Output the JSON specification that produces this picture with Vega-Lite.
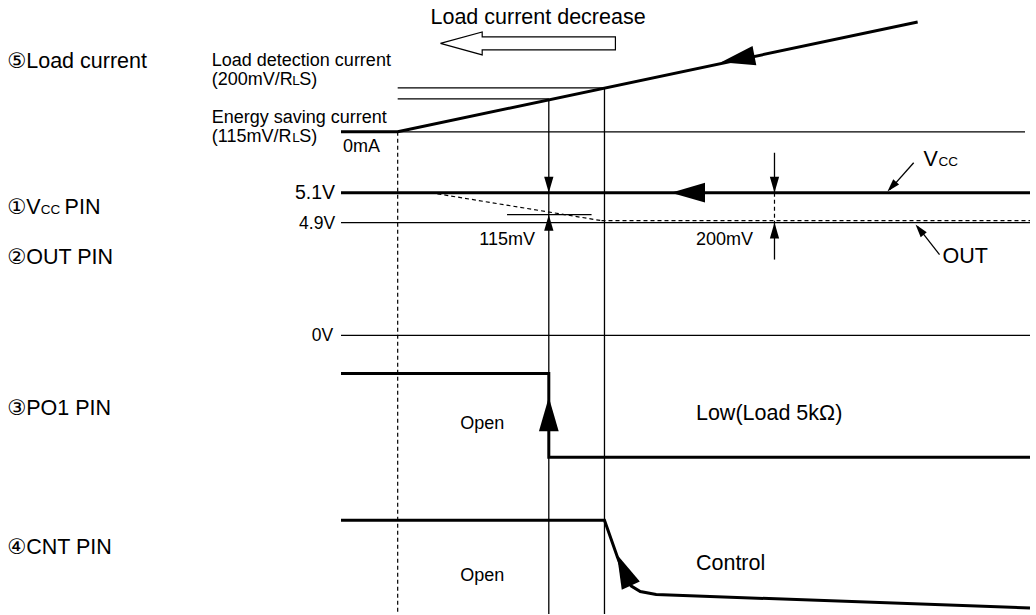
{
  "$schema": "https://vega.github.io/schema/vega-lite/v6.json",
  "width": 1036,
  "height": 615,
  "padding": 0,
  "autosize": {"type": "fit", "contains": "padding"},
  "config": {"view": {"stroke": null}, "axis": {"disable": true}, "text": {"font": "Liberation Sans, DejaVu Sans"}},
  "datasets": {
    "bold": [
      {"seg": "load", "ord": 1, "x": 343, "y": 132},
      {"seg": "load", "ord": 2, "x": 400, "y": 132},
      {"seg": "load", "ord": 3, "x": 923, "y": 22},
      {"seg": "vcc", "ord": 1, "x": 343, "y": 193},
      {"seg": "vcc", "ord": 2, "x": 1036, "y": 193},
      {"seg": "po1", "ord": 1, "x": 343, "y": 374},
      {"seg": "po1", "ord": 2, "x": 552, "y": 374},
      {"seg": "po1", "ord": 3, "x": 552, "y": 458},
      {"seg": "po1", "ord": 4, "x": 1036, "y": 458},
      {"seg": "cnt", "ord": 1, "x": 343, "y": 521},
      {"seg": "cnt", "ord": 2, "x": 608, "y": 521},
      {"seg": "cnt", "ord": 3, "x": 621, "y": 558},
      {"seg": "cnt", "ord": 4, "x": 629, "y": 579},
      {"seg": "cnt", "ord": 5, "x": 635, "y": 587},
      {"seg": "cnt", "ord": 6, "x": 644, "y": 592.5},
      {"seg": "cnt", "ord": 7, "x": 660, "y": 595.5},
      {"seg": "cnt", "ord": 8, "x": 1036, "y": 609}
    ],
    "thin": [
      {"x": 343, "y": 132, "x2": 1031, "y2": 132},
      {"x": 400, "y": 88, "x2": 608, "y2": 88},
      {"x": 400, "y": 99, "x2": 552, "y2": 99},
      {"x": 552, "y": 99, "x2": 552, "y2": 615},
      {"x": 608, "y": 88, "x2": 608, "y2": 615},
      {"x": 343, "y": 223, "x2": 1036, "y2": 223},
      {"x": 510, "y": 215, "x2": 595, "y2": 215},
      {"x": 343, "y": 336, "x2": 1036, "y2": 336},
      {"x": 779, "y": 153, "x2": 779, "y2": 193},
      {"x": 779, "y": 223, "x2": 779, "y2": 260},
      {"x": 919, "y": 163, "x2": 895, "y2": 190},
      {"x": 945, "y": 255, "x2": 923, "y2": 227}
    ],
    "dashed": [
      {"x": 400, "y": 132, "x2": 400, "y2": 615},
      {"x": 433, "y": 193, "x2": 605, "y2": 221},
      {"x": 605, "y": 221, "x2": 1036, "y2": 221},
      {"x": 779, "y": 193, "x2": 779, "y2": 223}
    ],
    "hollow": [
      {"ord": 1, "x": 443, "y": 43.5},
      {"ord": 2, "x": 485, "y": 32},
      {"ord": 3, "x": 485, "y": 37},
      {"ord": 4, "x": 619, "y": 37},
      {"ord": 5, "x": 619, "y": 50},
      {"ord": 6, "x": 485, "y": 50},
      {"ord": 7, "x": 485, "y": 55},
      {"ord": 8, "x": 443, "y": 43.5}
    ],
    "heads": [
      {"kind": "big", "x": 742, "y": 59, "angle": 259},
      {"kind": "big", "x": 692, "y": 193, "angle": 270},
      {"kind": "big", "x": 552, "y": 415, "angle": 0},
      {"kind": "big", "x": 627.5, "y": 571, "angle": 336},
      {"kind": "small", "x": 552, "y": 185, "angle": 180},
      {"kind": "small", "x": 552, "y": 223, "angle": 0},
      {"kind": "small", "x": 779, "y": 185, "angle": 180},
      {"kind": "small", "x": 779, "y": 231, "angle": 0},
      {"kind": "pointer", "x": 897, "y": 187, "angle": 222},
      {"kind": "pointer", "x": 925, "y": 230, "angle": 321}
    ],
    "texts": [
      {"group": "big", "x": 7, "y": 62, "label": "⑤Load current"},
      {"group": "big", "x": 7, "y": 208, "label": "①V"},
      {"group": "big", "x": 65, "y": 208, "label": "PIN"},
      {"group": "big", "x": 7, "y": 258, "label": "②OUT PIN"},
      {"group": "big", "x": 7, "y": 410, "label": "③PO1 PIN"},
      {"group": "big", "x": 7, "y": 549, "label": "④CNT PIN"},
      {"group": "big", "x": 433, "y": 18, "label": "Load current decrease"},
      {"group": "big", "x": 700, "y": 415, "label": "Low(Load 5kΩ)"},
      {"group": "big", "x": 700, "y": 565, "label": "Control"},
      {"group": "big", "x": 948, "y": 257, "label": "OUT"},
      {"group": "big", "x": 929, "y": 160, "label": "V"},
      {"group": "mid", "x": 213, "y": 61, "label": "Load detection current"},
      {"group": "mid", "x": 213, "y": 80, "label": "(200mV/R"},
      {"group": "mid", "x": 301, "y": 80, "label": "S)"},
      {"group": "mid", "x": 213, "y": 118, "label": "Energy saving current"},
      {"group": "mid", "x": 213, "y": 137, "label": "(115mV/R"},
      {"group": "mid", "x": 301, "y": 137, "label": "S)"},
      {"group": "mid", "x": 345, "y": 147, "label": "0mA"},
      {"group": "mid", "x": 463, "y": 425, "label": "Open"},
      {"group": "mid", "x": 463, "y": 577, "label": "Open"},
      {"group": "mid", "x": 482, "y": 240, "label": "115mV"},
      {"group": "mid", "x": 700, "y": 240, "label": "200mV"},
      {"group": "small", "x": 41, "y": 210, "label": "CC"},
      {"group": "small", "x": 944, "y": 162, "label": "CC"},
      {"group": "small", "x": 294, "y": 81, "label": "L"},
      {"group": "small", "x": 294, "y": 138, "label": "L"},
      {"group": "right", "x": 337, "y": 193, "label": "5.1V"},
      {"group": "rightmid", "x": 337, "y": 224, "label": "4.9V"},
      {"group": "rightmid", "x": 335, "y": 337, "label": "0V"}
    ]
  },
  "layer": [
    {
      "data": {"name": "thin"},
      "mark": {"type": "rule", "color": "black", "strokeWidth": 1.3},
      "encoding": {
        "x": {"field": "x", "type": "quantitative", "scale": {"domain": [0, 1036], "nice": false, "zero": false}},
        "y": {"field": "y", "type": "quantitative", "scale": {"domain": [0, 615], "reverse": true, "nice": false, "zero": false}},
        "x2": {"field": "x2"},
        "y2": {"field": "y2"}
      }
    },
    {
      "data": {"name": "dashed"},
      "mark": {"type": "rule", "color": "black", "strokeWidth": 1.2, "strokeDash": [4, 3]},
      "encoding": {
        "x": {"field": "x", "type": "quantitative"},
        "y": {"field": "y", "type": "quantitative"},
        "x2": {"field": "x2"},
        "y2": {"field": "y2"}
      }
    },
    {
      "data": {"name": "bold"},
      "mark": {"type": "line", "color": "black", "strokeWidth": 3, "strokeJoin": "miter"},
      "encoding": {
        "x": {"field": "x", "type": "quantitative"},
        "y": {"field": "y", "type": "quantitative"},
        "detail": {"field": "seg"},
        "order": {"field": "ord"}
      }
    },
    {
      "data": {"name": "hollow"},
      "mark": {"type": "line", "color": "black", "strokeWidth": 1.2, "strokeJoin": "miter"},
      "encoding": {
        "x": {"field": "x", "type": "quantitative"},
        "y": {"field": "y", "type": "quantitative"},
        "order": {"field": "ord"}
      }
    },
    {
      "data": {"name": "heads"},
      "transform": [{"filter": "datum.kind === 'big'"}],
      "mark": {"type": "point", "shape": "M0,-1L0.58,1L-0.58,1Z", "filled": true, "color": "black", "opacity": 1, "size": 1160, "strokeWidth": 0},
      "encoding": {
        "x": {"field": "x", "type": "quantitative"},
        "y": {"field": "y", "type": "quantitative"},
        "angle": {"field": "angle", "type": "quantitative", "scale": null}
      }
    },
    {
      "data": {"name": "heads"},
      "transform": [{"filter": "datum.kind === 'small'"}],
      "mark": {"type": "point", "shape": "M0,-1L0.58,1L-0.58,1Z", "filled": true, "color": "black", "opacity": 1, "size": 256, "strokeWidth": 0},
      "encoding": {
        "x": {"field": "x", "type": "quantitative"},
        "y": {"field": "y", "type": "quantitative"},
        "angle": {"field": "angle", "type": "quantitative", "scale": null}
      }
    },
    {
      "data": {"name": "heads"},
      "transform": [{"filter": "datum.kind === 'pointer'"}],
      "mark": {"type": "point", "shape": "M0,-1L0.6,1L-0.6,1Z", "filled": true, "color": "black", "opacity": 1, "size": 169, "strokeWidth": 0},
      "encoding": {
        "x": {"field": "x", "type": "quantitative"},
        "y": {"field": "y", "type": "quantitative"},
        "angle": {"field": "angle", "type": "quantitative", "scale": null}
      }
    },
    {
      "data": {"name": "texts"},
      "transform": [{"filter": "datum.group === 'big'"}],
      "mark": {"type": "text", "fontSize": 21.5, "align": "left", "baseline": "middle", "color": "black"},
      "encoding": {
        "x": {"field": "x", "type": "quantitative"},
        "y": {"field": "y", "type": "quantitative"},
        "text": {"field": "label"}
      }
    },
    {
      "data": {"name": "texts"},
      "transform": [{"filter": "datum.group === 'mid'"}],
      "mark": {"type": "text", "fontSize": 18, "align": "left", "baseline": "middle", "color": "black"},
      "encoding": {
        "x": {"field": "x", "type": "quantitative"},
        "y": {"field": "y", "type": "quantitative"},
        "text": {"field": "label"}
      }
    },
    {
      "data": {"name": "texts"},
      "transform": [{"filter": "datum.group === 'small'"}],
      "mark": {"type": "text", "fontSize": 13.5, "align": "left", "baseline": "middle", "color": "black"},
      "encoding": {
        "x": {"field": "x", "type": "quantitative"},
        "y": {"field": "y", "type": "quantitative"},
        "text": {"field": "label"}
      }
    },
    {
      "data": {"name": "texts"},
      "transform": [{"filter": "datum.group === 'right'"}],
      "mark": {"type": "text", "fontSize": 19.5, "align": "right", "baseline": "middle", "color": "black"},
      "encoding": {
        "x": {"field": "x", "type": "quantitative"},
        "y": {"field": "y", "type": "quantitative"},
        "text": {"field": "label"}
      }
    },
    {
      "data": {"name": "texts"},
      "transform": [{"filter": "datum.group === 'rightmid'"}],
      "mark": {"type": "text", "fontSize": 17.5, "align": "right", "baseline": "middle", "color": "black"},
      "encoding": {
        "x": {"field": "x", "type": "quantitative"},
        "y": {"field": "y", "type": "quantitative"},
        "text": {"field": "label"}
      }
    }
  ]
}
